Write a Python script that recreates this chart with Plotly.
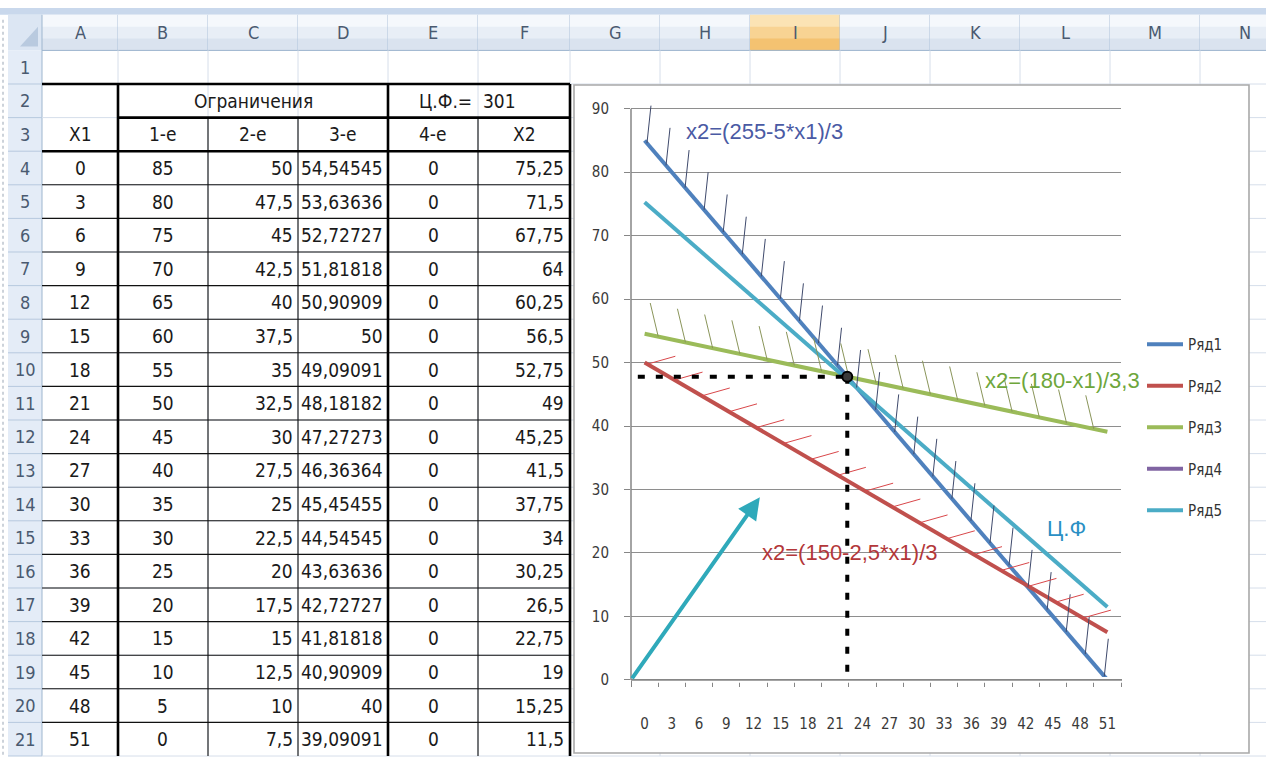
import numpy as np
import plotly.graph_objects as go

# ---- worksheet data (columns A..F, rows 4..21) ----
x1_vals = [0, 3, 6, 9, 12, 15, 18, 21, 24, 27, 30, 33, 36, 39, 42, 45, 48, 51]
lim1 = [85, 80, 75, 70, 65, 60, 55, 50, 45, 40, 35, 30, 25, 20, 15, 10, 5, 0]
lim2 = [50, 47.5, 45, 42.5, 40, 37.5, 35, 32.5, 30, 27.5, 25, 22.5, 20, 17.5, 15, 12.5, 10, 7.5]
lim3 = [54.54545, 53.63636, 52.72727, 51.81818, 50.90909, 50, 49.09091, 48.18182, 47.27273,
        46.36364, 45.45455, 44.54545, 43.63636, 42.72727, 41.81818, 40.90909, 40, 39.09091]
lim4 = [0] * 18
x2_vals = [75.25, 71.5, 67.75, 64, 60.25, 56.5, 52.75, 49, 45.25, 41.5, 37.75, 34, 30.25,
           26.5, 22.75, 19, 15.25, 11.5]

col_letters = list("ABCDEFGHIJKLMN")
head_row3 = ["X1", "1-е", "2-е", "3-е", "4-е", "X2"]
group_title = "Ограничения"
goal_label = "Ц.Ф.="
goal_value = "301"
series_names = ["Ряд1", "Ряд2", "Ряд3", "Ряд4", "Ряд5"]
series_colors = ["#4F81BD", "#C0504D", "#9BBB59", "#8064A2", "#4BACC6"]
y_ticks = [0, 10, 20, 30, 40, 50, 60, 70, 80, 90]

W, H = 1266, 765
FONT = "Liberation Sans Narrow, Arial Narrow, DejaVu Sans Condensed, sans-serif"


def px(x):
    return x / W


def py(y):
    return 1 - y / H


def ru(v):
    s = f"{v:.5f}".rstrip("0").rstrip(".")
    return s.replace(".", ",")


shapes = []
annotations = []


def rect(x0, y0, x1, y1, fill, line=None, lw=0, layer="below"):
    shapes.append(dict(type="rect", xref="paper", yref="paper",
                       x0=px(x0), x1=px(x1), y0=py(y1), y1=py(y0),
                       fillcolor=fill, line=dict(color=line or fill, width=lw), layer=layer))


def seg(x0, y0, x1, y1, color, width, layer="below", dash=None):
    ln = dict(color=color, width=width)
    if dash:
        ln["dash"] = dash
    shapes.append(dict(type="line", xref="paper", yref="paper",
                       x0=px(x0), x1=px(x1), y0=py(y0), y1=py(y1), line=ln, layer=layer))


def text(x, y, s, size=19, color="#1A1A1A", anchor="center", family=FONT):
    annotations.append(dict(xref="paper", yref="paper", x=px(x), y=py(y), text=s,
                            showarrow=False, xanchor=anchor, yanchor="middle",
                            font=dict(family=family, size=size, color=color)))


# ---- sheet geometry ----
col_edges = [42, 118, 208, 298, 388, 478, 570, 660, 750, 840, 930, 1020, 1110, 1200, 1290]
head_top, head_bot = 15, 51
row_h = 34
row_edges = [head_bot + row_h * r for r in range(22)]

# window strip and header band
rect(0, 8, W, 15, "#C9D8EC")
for c in range(len(col_letters)):
    xa, xb = col_edges[c], col_edges[c + 1]
    if col_letters[c] == "I":
        tones = ["#FBE3B4", "#F8D393", "#F4C271"]
    else:
        tones = ["#F5F8FC", "#E8EEF6", "#DAE3EF"]
    band = (head_bot - head_top) / 3
    for i, t in enumerate(tones):
        rect(xa, head_top + i * band, xb, head_top + (i + 1) * band + 0.5, t)
    seg(xb, head_top, xb, head_bot, "#AFC3DA", 1)
    text((xa + xb) / 2, 33, col_letters[c], size=18, color="#4A5A70")
seg(42, head_bot, W, head_bot, "#9EB6CE", 1)

# corner cell
rect(8, head_top, 42, head_bot, "#DCE6F3")
shapes.append(dict(type="path", xref="paper", yref="paper",
                   path=f"M {px(38)},{py(47)} L {px(38)},{py(27)} L {px(20)},{py(47)} Z",
                   fillcolor="#B9CADF", line=dict(width=0), layer="below"))

# row header column
rect(8, head_bot, 42, H, "#E4ECF7")
seg(42, head_top, 42, H, "#9EB6CE", 1)
for r in range(1, 22):
    yb = row_edges[r]
    seg(8, yb, 42, yb, "#B7C9DE", 1)
    text(25, (row_edges[r - 1] + yb) / 2, str(r), size=18, color="#4A5A70")
seg(3, 20, 3, H, "#9AA6B5", 1, dash="dot")

# light worksheet gridlines
for xe in col_edges[1:]:
    seg(xe, head_bot, xe, H, "#D6DEEA", 1)
for ye in row_edges[1:]:
    seg(42, ye, W, ye, "#D6DEEA", 1)

# table borders
thin, thick = 1.1, 2.6
for r in range(4, 21):
    seg(42, row_edges[r], 570, row_edges[r], "#111111", thin)
for xe in (208, 298, 478):
    seg(xe, row_edges[2], xe, H, "#111111", thin)
seg(42, row_edges[1], 570, row_edges[1], "#000000", thick)
seg(118, row_edges[2], 570, row_edges[2], "#000000", thick)
seg(42, row_edges[3], 570, row_edges[3], "#000000", thick)
for xe in (118, 388, 570):
    seg(xe, row_edges[1], xe, H, "#000000", thick)

# table text
cx = [(col_edges[i] + col_edges[i + 1]) / 2 for i in range(6)]
r2 = (row_edges[1] + row_edges[2]) / 2
r3 = (row_edges[2] + row_edges[3]) / 2
text((118 + 388) / 2, r2, group_title)
text(474, r2, goal_label, anchor="right")
text(481, r2, goal_value, anchor="left")
for i, h in enumerate(head_row3):
    text(cx[i], r3, h)
for k in range(len(x1_vals)):
    yc = (row_edges[k + 3] + row_edges[k + 4]) / 2
    text(cx[0], yc, ru(x1_vals[k]))
    text(cx[1], yc, ru(lim1[k]))
    text(295, yc, ru(lim2[k]), anchor="right")
    text(385, yc, ru(lim3[k]), anchor="right")
    text(cx[4], yc, ru(lim4[k]))
    text(566, yc, ru(x2_vals[k]), anchor="right")

# chart object frame
rect(574, 86, 1249, 762, "#FFFFFF", line="#A9A9A9", lw=1.6)

# ---- chart ----
x_lo, x_hi = -1.5, 52.5
y_top = 93
plot_l, plot_r = 631, 1121
pix0, pix90 = 688, 110
ppu = (pix0 - pix90) / 90
dom_top = pix0 - y_top * ppu

fig = go.Figure()
all_series = [lim1, lim2, lim3, lim4, x2_vals]
for name, ys, col in zip(series_names, all_series, series_colors):
    fig.add_trace(go.Scatter(x=x1_vals, y=ys, mode="lines", name=name, legendgroup=name,
                             line=dict(color=col, width=4), hoverinfo="skip"))


def hatch(xs_at, ys_series, dx, dy, color, width=1):
    hx, hy = [], []
    for xv in xs_at:
        yv = float(np.interp(xv, x1_vals, ys_series))
        hx += [xv, xv + dx, None]
        hy += [yv, yv + dy, None]
    fig.add_trace(go.Scatter(x=hx, y=hy, mode="lines", showlegend=False, hoverinfo="skip",
                             line=dict(color=color, width=width)))


xu = (plot_r - plot_l) / (x_hi - x_lo)
hatch(np.arange(0.26, 51, 2.1), lim1, 4 / xu, 38 / ppu, "#3F4A6C")
hatch(np.arange(1.5, 50, 3.0), lim3, -8 / xu, 34 / ppu, "#8A955A")
hatch(np.arange(0.3, 49, 3.0), lim2, 28 / xu, 8 / ppu, "#D9474A")

# optimum: crossing of constraint 1 and constraint 3
d = np.array(lim1) - np.array(lim3)
i = int(np.where(np.sign(d[:-1]) != np.sign(d[1:]))[0][0])
t = d[i] / (d[i] - d[i + 1])
opt_x = x1_vals[i] + t * (x1_vals[i + 1] - x1_vals[i])
opt_y = lim1[i] + t * (lim1[i + 1] - lim1[i])

fig.add_trace(go.Scatter(x=[-0.75, opt_x], y=[opt_y, opt_y], mode="lines", showlegend=False,
                         hoverinfo="skip", line=dict(color="#000000", width=4, dash="7px,11px")))
fig.add_trace(go.Scatter(x=[opt_x, opt_x], y=[opt_y, 0], mode="lines", showlegend=False,
                         hoverinfo="skip", line=dict(color="#000000", width=4, dash="7px,11px")))
fig.add_trace(go.Scatter(x=[opt_x], y=[opt_y], mode="markers", showlegend=False, hoverinfo="skip",
                         marker=dict(symbol="circle", size=10, color="#3A3A3A",
                                     line=dict(color="#000000", width=2))))

# gradient direction arrow
annotations.append(dict(x=12.7, y=28.8, ax=-1.5, ay=0, xref="x", yref="y", axref="x", ayref="y",
                        showarrow=True, arrowhead=2, arrowsize=1.1, arrowwidth=4,
                        arrowcolor="#2FA9BA", text=""))

LBL = "Liberation Sans Narrow, Arial Narrow, Arial, sans-serif"
for s, xv, yv, col in [("x2=(255-5*x1)/3", 13.2, 86.4, "#4A5AA4"),
                       ("x2=(180-x1)/3,3", 46.0, 47.2, "#6EA63B"),
                       ("x2=(150-2,5*x1)/3", 22.6, 20.1, "#B3373A"),
                       ("Ц.Ф", 46.5, 23.8, "#2A8FC4")]:
    annotations.append(dict(x=xv, y=yv, xref="x", yref="y", text=s, showarrow=False,
                            font=dict(family=LBL, size=22, color=col)))

# horizontal axis sits over the zero series; vertical axis line
rect(plot_l + 1, pix0 - 3, plot_r + 2, pix0 + 3, "#FFFFFF", layer="above")
seg(plot_l, pix0, plot_r + 1, pix0, "#868686", 1.8, layer="above")
seg(plot_l, pix0, plot_l, pix90, "#868686", 1.5, layer="above")

fig.update_layout(
    width=W, height=H, margin=dict(l=0, r=0, t=0, b=0),
    paper_bgcolor="#FFFFFF", plot_bgcolor="rgba(0,0,0,0)",
    shapes=shapes, annotations=annotations,
    showlegend=True,
    legend=dict(x=px(1142), y=py(332), xanchor="left", yanchor="top",
                font=dict(family=FONT, size=15, color="#333333"),
                tracegroupgap=19, bgcolor="rgba(0,0,0,0)", traceorder="grouped",
                itemwidth=36),
    xaxis=dict(domain=[px(plot_l), px(plot_r)], range=[x_lo, x_hi], showgrid=False,
               zeroline=False, showline=False, tickmode="array", tickvals=x1_vals,
               ticktext=[str(v) for v in x1_vals], ticks="", ticklabelstandoff=33,
               tickfont=dict(family=FONT, size=15, color="#3A3A3A"),
               minor=dict(tick0=-1.5, dtick=3, ticks="outside", ticklen=6,
                          tickcolor="#868686", tickwidth=1.2, showgrid=False),
               fixedrange=True),
    yaxis=dict(domain=[py(pix0), py(dom_top)], range=[0, y_top], tickmode="array",
               tickvals=y_ticks, showgrid=True, gridcolor="#8E8E8E", gridwidth=1.3,
               zeroline=False, showline=False, ticks="outside", ticklen=6,
               tickcolor="#868686", ticklabelstandoff=12,
               tickfont=dict(family=FONT, size=15, color="#3A3A3A"), fixedrange=True),
)

fig.write_html("out.html")
